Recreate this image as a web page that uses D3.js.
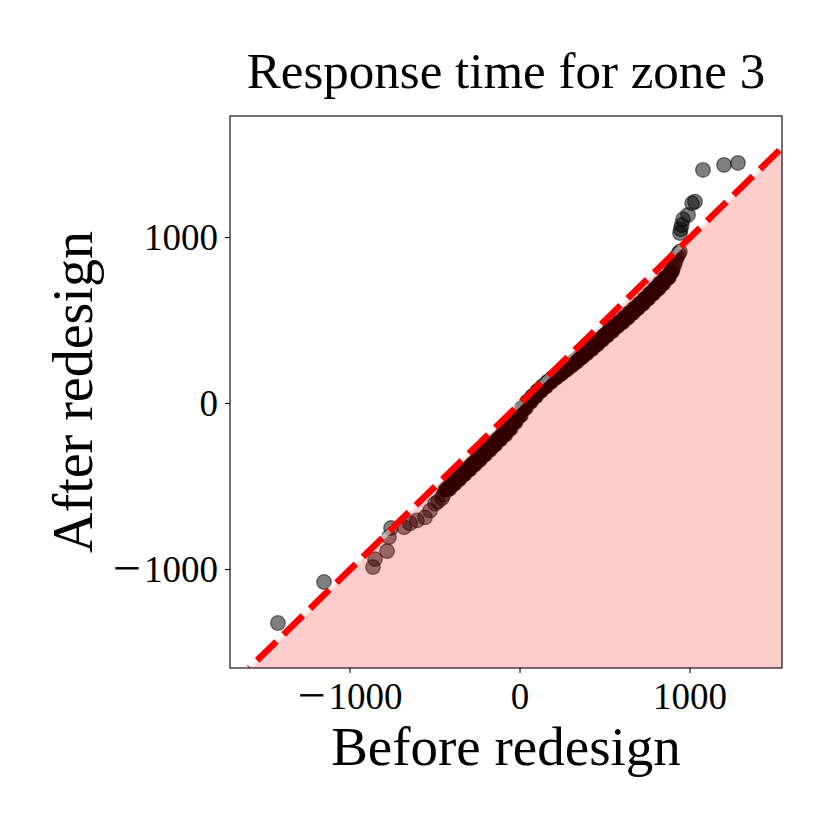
<!DOCTYPE html>
<html><head><meta charset="utf-8">
<script src="https://cdn.jsdelivr.net/npm/d3@7"></script>
<style>body{margin:0;background:#fff} text{font-family:"Liberation Serif","DejaVu Serif",serif;fill:#000}</style>
</head><body><svg id="c" width="830" height="830"></svg>
<script>
const title = "Response time for zone 3";
const xLabel = "Before redesign";
const yLabel = "After redesign";
const xDomain = [-1706, 1541];
const yDomain = [-1593, 1732];
const xTicks = [-1000, 0, 1000];
const yTicks = [-1000, 0, 1000];

// sorted quantiles, before redesign
const before = [
  -1424, -1153, -865, -853, -782, -771, -759, -682, -647, -606, -559, -529, -500, -482, -459, -450,
  -440, -435, -430, -425, -420, -415, -410, -405, -400, -395, -390, -385,
  -380, -375, -370, -365, -360, -355, -350, -345, -340, -335, -330, -325,
  -320, -315, -310, -305, -300, -295, -290, -285, -280, -275, -270, -265,
  -260, -255, -250, -245, -240, -235, -230, -225, -220, -215, -210, -205,
  -200, -195, -190, -185, -180, -175, -170, -165, -160, -155, -150, -145,
  -140, -135, -130, -125, -120, -115, -110, -105, -100, -95, -90, -85,
  -80, -75, -70, -65, -60, -55, -50, -45, -40, -35, -30, -25,
  -20, -15, -10, -5, 0, 5, 10, 15, 20, 25, 30, 35,
  40, 45, 50, 55, 60, 65, 70, 75, 80, 85, 90, 95,
  100, 105, 110, 115, 120, 125, 130, 135, 140, 145, 150, 155,
  160, 165, 170, 175, 180, 185, 190, 195, 200, 205, 210, 215,
  220, 225, 230, 235, 240, 245, 250, 255, 260, 265, 270, 275,
  280, 285, 290, 295, 300, 305, 310, 315, 320, 325, 330, 335,
  340, 345, 350, 355, 360, 365, 370, 375, 380, 385, 390, 395,
  400, 405, 410, 415, 420, 425, 430, 435, 440, 445, 450, 455,
  460, 465, 470, 475, 480, 485, 490, 495, 500, 505, 510, 515,
  520, 525, 530, 535, 540, 545, 550, 555, 560, 565, 570, 575,
  580, 585, 590, 595, 600, 605, 610, 615, 620, 625, 630, 635,
  640, 645, 650, 655, 660, 665, 670, 675, 680, 685, 690, 695,
  700, 705, 710, 715, 720, 725, 730, 735, 740, 745, 750, 755,
  760, 765, 770, 775, 780, 785, 790, 795, 800, 805, 810, 815,
  820, 825, 830, 835, 840, 845, 850, 855, 860, 865, 870, 875,
  880, 885, 890, 895, 900, 908, 916, 924, 932, 940,
  941, 945, 951, 959, 988, 1012, 1029, 1076, 1200, 1282
];
// sorted quantiles, after redesign
const after = [
  -1322, -1075, -985, -937, -889, -804, -750, -745, -722, -704, -686, -645, -603, -590, -570, -548,
  -516, -516, -515, -515, -514, -514, -486, -486, -485, -485, -484, -484,
  -457, -457, -456, -456, -455, -455, -427, -427, -426, -426, -425, -425,
  -399, -399, -398, -398, -397, -397, -369, -369, -368, -368, -367, -367,
  -340, -340, -339, -339, -338, -338, -310, -310, -309, -309, -308, -308,
  -280, -280, -279, -279, -278, -278, -250, -250, -249, -249, -248, -248,
  -218, -218, -217, -217, -216, -216, -188, -188, -187, -187, -186, -186,
  -153, -153, -152, -152, -151, -151, -113, -113, -112, -112, -111, -111,
  -74, -74, -73, -73, -72, -72, -28, -28, -27, -27, -26, -26,
  10, 10, 11, 11, 12, 12, 42, 42, 43, 43, 44, 44,
  74, 74, 75, 75, 76, 76, 102, 102, 103, 103, 104, 104,
  130, 130, 131, 131, 132, 132, 155, 155, 156, 156, 157, 157,
  178, 178, 179, 179, 180, 180, 202, 202, 203, 203, 204, 204,
  226, 226, 227, 227, 228, 228, 250, 250, 251, 251, 252, 252,
  276, 276, 277, 277, 278, 278, 302, 302, 303, 303, 304, 304,
  327, 327, 328, 328, 329, 329, 354, 354, 355, 355, 356, 356,
  382, 382, 383, 383, 384, 384, 409, 409, 410, 410, 411, 411,
  436, 436, 437, 437, 438, 438, 464, 464, 465, 465, 466, 466,
  489, 489, 490, 490, 491, 491, 516, 516, 517, 517, 518, 518,
  544, 544, 545, 545, 546, 546, 572, 572, 573, 573, 574, 574,
  600, 600, 601, 601, 602, 602, 630, 630, 631, 631, 632, 632,
  660, 660, 661, 661, 662, 662, 690, 690, 691, 691, 692, 692,
  722, 722, 723, 723, 724, 724, 756, 756, 757, 757, 758, 758,
  785, 787, 790, 800, 815, 838, 860, 884, 902, 915,
  1027, 1050, 1075, 1110, 1136, 1206, 1216, 1407, 1437, 1449
];

const points = before.map((b, i) => ({b, a: after[i]}));

const svg = d3.select("#c");
const L = 230, R = 782, T = 116, B = 668;
const x = d3.scaleLinear().domain(xDomain).range([L, R]);
const y = d3.scaleLinear().domain(yDomain).range([B, T]);

svg.append("defs").append("clipPath").attr("id", "clip")
  .append("rect").attr("x", L).attr("y", T).attr("width", R - L).attr("height", B - T);

const g = svg.append("g").attr("clip-path", "url(#clip)");

const lo = Math.max(xDomain[0], yDomain[0]);
const hi = Math.min(xDomain[1], yDomain[1]);

// points (drawn first; the translucent fill lies over them)
g.selectAll("circle").data(points).join("circle")
  .attr("cx", d => x(d.b)).attr("cy", d => y(d.a)).attr("r", 7.3)
  .attr("fill", "#000").attr("fill-opacity", 0.5)
  .attr("stroke", "#000").attr("stroke-opacity", 0.5).attr("stroke-width", 1.3);

// fill below y = x
g.append("path")
  .attr("d", d3.line()([[x(lo), y(lo)], [x(hi), y(hi)], [x(xDomain[1]), y(yDomain[0])], [x(lo), y(yDomain[0])]]) + "Z")
  .attr("fill", "#ff0000").attr("fill-opacity", 0.2);

// pale edge line
g.append("line")
  .attr("x1", x(lo)).attr("y1", y(lo)).attr("x2", x(hi)).attr("y2", y(hi))
  .attr("stroke", "#ffffff").attr("stroke-opacity", 0.5).attr("stroke-width", 5);

// dashed y = x
g.append("line")
  .attr("x1", x(lo)).attr("y1", y(lo)).attr("x2", x(hi)).attr("y2", y(hi))
  .attr("stroke", "#ff0000").attr("stroke-width", 6.5)
  .attr("stroke-dasharray", "27,10").attr("stroke-dashoffset", 26);

// spines
svg.append("rect").attr("x", L).attr("y", T).attr("width", R - L).attr("height", B - T)
  .attr("fill", "none").attr("stroke", "#000").attr("stroke-width", 1.1);

function tickText(sel, v) {
  if (v < 0) {
    sel.append("tspan").attr("font-size", 50).attr("dy", 3).text("\u2212");
    sel.append("tspan").attr("dy", -3).attr("dx", 3).text(String(Math.abs(v)));
  } else {
    sel.text(String(v));
  }
}

// x ticks
const xt = svg.append("g");
xTicks.forEach(v => {
  xt.append("line").attr("x1", x(v)).attr("x2", x(v)).attr("y1", B).attr("y2", B + 5)
    .attr("stroke", "#000").attr("stroke-width", 1.1);
  const t = xt.append("text").attr("x", x(v)).attr("y", 709).attr("text-anchor", "middle")
    .attr("font-size", 37);
  tickText(t, v);
});
// y ticks
const yt = svg.append("g");
yTicks.forEach(v => {
  yt.append("line").attr("x1", L - 5).attr("x2", L).attr("y1", y(v)).attr("y2", y(v))
    .attr("stroke", "#000").attr("stroke-width", 1.1);
  const t = yt.append("text").attr("x", 218).attr("y", y(v) + 12).attr("text-anchor", "end")
    .attr("font-size", 37);
  tickText(t, v);
});

// labels
svg.append("text").attr("x", (L + R) / 2).attr("y", 88).attr("text-anchor", "middle")
  .attr("font-size", 51).text(title);
svg.append("text").attr("x", (L + R) / 2).attr("y", 765).attr("text-anchor", "middle")
  .attr("font-size", 55).text(xLabel);
svg.append("text").attr("transform", `translate(92,${(T + B) / 2}) rotate(-90)`)
  .attr("text-anchor", "middle").attr("font-size", 56).text(yLabel);
</script></body></html>
